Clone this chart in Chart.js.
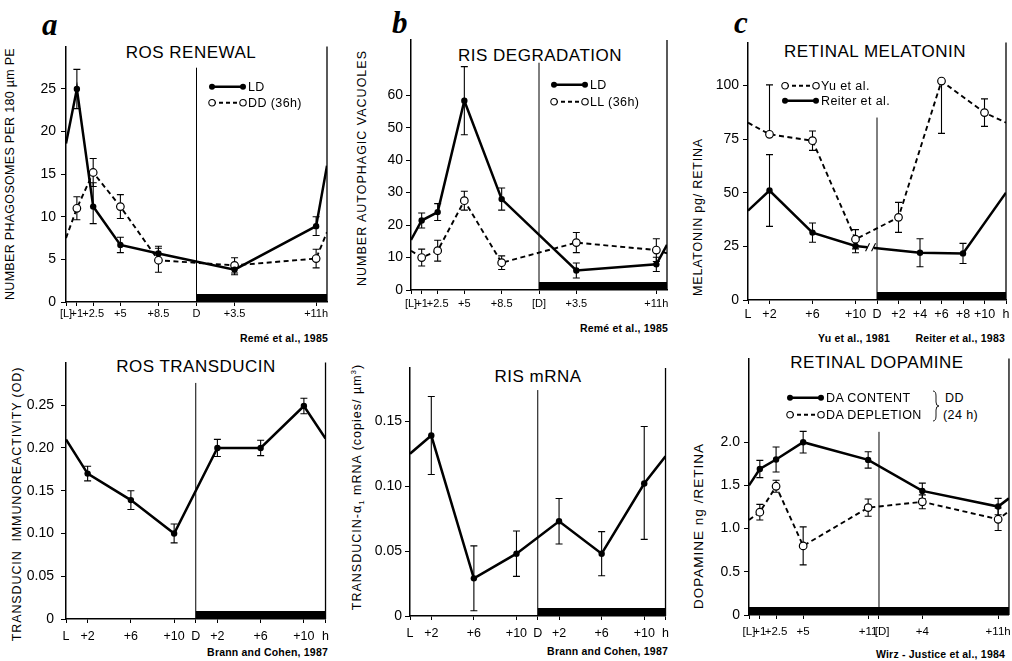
<!DOCTYPE html>
<html>
<head>
<meta charset="utf-8">
<title>Retinal rhythms</title>
<script src="https://cdn.jsdelivr.net/npm/chart.js@4.4.1/dist/chart.umd.min.js"></script>
<style>
  body { margin: 0; width: 1012px; height: 661px; position: relative; overflow: hidden; background: #fff; color: #000;
         font-family: "Liberation Sans", Arial, Helvetica, sans-serif; }
  canvas { position: absolute; }
  .txt { position: absolute; white-space: nowrap; line-height: 1; }
  .title { font-size: 17px; letter-spacing: 0.5px; transform: translate(-50%, -50%); }
  .ytitle { font-size: 12.5px; transform: translate(-50%, -50%) rotate(-90deg); }
  .letter { font-family: "Liberation Serif", "DejaVu Serif", serif; font-weight: bold; font-style: italic; font-size: 31px; }
  .note { font-size: 10.5px; font-weight: bold; letter-spacing: 0.2px; transform: translate(-100%, -50%); }
  .leg { font-size: 12.5px; letter-spacing: 0.4px; transform: translateY(-50%); display: flex; align-items: center; }
  .leg svg { margin-right: 1px; }
  sub, sup { font-size: 8px; line-height: 0; }
</style>
</head>
<body>

<div class="txt letter" style="left:42px;top:9px">a</div>
<div class="txt letter" style="left:392px;top:7px">b</div>
<div class="txt letter" style="left:734px;top:7px">c</div>

<div class="txt title" style="left:191px;top:52px">ROS RENEWAL</div>
<div class="txt title" style="left:540px;top:55px">RIS DEGRADATION</div>
<div class="txt title" style="left:875px;top:51px">RETINAL MELATONIN</div>
<div class="txt title" style="left:196px;top:366px">ROS TRANSDUCIN</div>
<div class="txt title" style="left:538px;top:376px">RIS mRNA</div>
<div class="txt title" style="left:877px;top:362px">RETINAL DOPAMINE</div>

<div class="txt ytitle" style="left:10px;top:174px;letter-spacing:0.3px">NUMBER PHAGOSOMES PER 180 µm PE</div>
<div class="txt ytitle" style="left:362px;top:168px;letter-spacing:1px">NUMBER AUTOPHAGIC VACUOLES</div>
<div class="txt ytitle" style="left:698px;top:217px;letter-spacing:0.8px">MELATONIN pg/ RETINA</div>
<div class="txt ytitle" style="left:17px;top:504px;letter-spacing:0.9px">TRANSDUCIN&nbsp; IMMUNOREACTIVITY (OD)</div>
<div class="txt ytitle" style="left:357px;top:487px;letter-spacing:1px">TRANSDUCIN-α<sub>1</sub> mRNA (copies/ µm<sup>3</sup>)</div>
<div class="txt ytitle" style="left:699px;top:526px;font-size:13.5px;letter-spacing:1px">DOPAMINE ng /RETINA</div>

<div class="txt note" style="left:328px;top:338px">Remé et al., 1985</div>
<div class="txt note" style="left:668px;top:328px">Remé et al., 1985</div>
<div class="txt note" style="left:890px;top:338px">Yu et al., 1981</div>
<div class="txt note" style="left:1005px;top:338px">Reiter et al., 1983</div>
<div class="txt note" style="left:328px;top:652px">Brann and Cohen, 1987</div>
<div class="txt note" style="left:668px;top:651px">Brann and Cohen, 1987</div>
<div class="txt note" style="left:1005px;top:654px">Wirz - Justice et al., 1984</div>

<svg style="position:absolute;left:932px;top:390px" width="8" height="32">
  <path d="M1 1 Q4 1 4 6 L4 12 Q4 16 7 16 Q4 16 4 20 L4 26 Q4 31 1 31" fill="none" stroke="#000" stroke-width="0.9"/>
</svg>
<div class="txt leg" style="left:945px;top:398px">DD</div>
<div class="txt leg" style="left:943px;top:415px">(24 h)</div>

<script>
'use strict'

const FONT = '"Liberation Sans", Arial, Helvetica, sans-serif';
Chart.defaults.color = '#000';
Chart.defaults.font.family = FONT;

// hours after light onset; lights off (D) at 12 h
// a - ROS renewal
const aHours = [0, 1, 2.5, 5, 8.5, 15.5, 23, 24];
const aLD = [18.6, 25, 11.2, 6.7, 5.7, 3.8, 8.9, 16];
const aLDErr = [null, 2.3, [2, 2.8], 0.9, 0.85, 0.6, 1.1, null];
const aDD = [7.5, 11, 15.2, 11.2, 4.9, 4.3, 5.1, 8.2];
const aDDErr = [null, 1.35, 1.65, 1.4, 1.4, 0.9, 1.1, null];
const aTicks = [0, 1, 2.5, 5, 8.5, 12, 15.5, 23];
const aTickLabels = ['[L]', '+1', '+2.5', '+5', '+8.5', 'D', '+3.5', '+11h'];
const aYTicks = [0, 5, 10, 15, 20, 25];
const aYLabels = ['0', '5', '10', '15', '20', '25'];

// b - RIS degradation
const bHours = [0, 1, 2.5, 5, 8.5, 15.5, 23, 24];
const bLD = [15.4, 21.4, 24, 58.3, 28, 6, 7.9, 13.9];
const bLDErr = [null, 2.3, 2.6, 10.5, 3.4, 2.3, 2.2, null];
const bLL = [12.1, 10, 12.1, 27.5, 8.4, 14.6, 12.3, 11.3];
const bLLErr = [null, 2.6, 3.2, 2.9, 2.1, 3.1, 3.5, null];
const bTicks = [0, 1, 2.5, 5, 8.5, 12, 15.5, 23];
const bTickLabels = ['[L]', '+1', '+2.5', '+5', '+8.5', '[D]', '+3.5', '+11h'];
const bYTicks = [0, 10, 20, 30, 40, 50, 60];
const bYLabels = ['0', '10', '20', '30', '40', '50', '60'];

// c - retinal melatonin
const cYuHours = [0, 2, 6, 10, 14, 18, 22, 24];
const cYu = [82.6, 77.2, 74.2, 28.3, 38.5, 102, 87.3, 82.6];
const cYuErr = [null, [0, 23], 4.5, 4.5, 7, [24.4, 0], 6.4, null];
const cReiterHours = [0, 2, 6, 10, 16, 20, 24];
const cReiter = [41.6, 51, 31.4, 25.2, 22, 21.7, 50];
const cReiterErr = [null, 16.7, 4.5, 3.2, 6.5, 4.7, null];
const cTicks = [0, 2, 6, 10, 12, 14, 16, 18, 20, 22, 24];
const cTickLabels = ['L', '+2', '+6', '+10', 'D', '+2', '+4', '+6', '+8', '+10', 'h'];
const cYTicks = [0, 25, 50, 75, 100];
const cYLabels = ['0', '25', '50', '75', '100'];

// d - ROS transducin
const dHours = [0, 2, 6, 10, 14, 18, 22, 24];
const dTransducin = [0.21, 0.17, 0.139, 0.1, 0.2, 0.2, 0.249, 0.211];
const dErr = [null, 0.0085, 0.011, 0.011, 0.01, 0.009, 0.009, null];
const dTicks = [0, 2, 6, 10, 12, 14, 18, 22, 24];
const dTickLabels = ['L', '+2', '+6', '+10', 'D', '+2', '+6', '+10', 'h'];
const dYTicks = [0, 0.05, 0.1, 0.15, 0.2, 0.25];
const dYLabels = ['0', '0.05', '0.10', '0.15', '0.20', '0.25'];

// e - RIS mRNA
const eHours = [0, 2, 6, 10, 14, 18, 22, 24];
const eMRNA = [0.125, 0.139, 0.029, 0.048, 0.073, 0.048, 0.102, 0.123];
const eErr = [null, 0.03, 0.025, 0.0175, 0.0175, 0.017, [0.043, 0.044], null];
const eTicks = [0, 2, 6, 10, 12, 14, 18, 22, 24];
const eTickLabels = ['L', '+2', '+6', '+10', 'D', '+2', '+6', '+10', 'h'];
const eYTicks = [0, 0.05, 0.1, 0.15];
const eYLabels = ['0', '0.05', '0.10', '0.15'];

// f - retinal dopamine
const fHours = [0, 1, 2.5, 5, 11, 16, 23, 24];
const fContent = [1.5, 1.69, 1.8, 2.0, 1.795, 1.436, 1.255, 1.35];
const fContentErr = [null, 0.1, 0.145, 0.125, 0.095, 0.09, 0.095, null];
const fDepletion = [1.1, 1.19, 1.49, 0.8, 1.243, 1.31, 1.108, 1.2];
const fDepletionErr = [null, 0.09, 0.07, 0.22, 0.1, 0.08, 0.13, null];
const fTicks = [0, 1, 2.5, 5, 11, 12, 16, 23];
const fTickLabels = ['[L]', '+1', '+2.5', '+5', '+11', '  [D]', '+4', '+11h'];
const fYTicks = [0, 0.5, 1, 1.5, 2];
const fYLabels = ['0', '0.5', '1.0', '1.5', '2.0'];

const Y_W = 40, X_H = 26, PAD_T = 12, PAD_R = 8;

const panels = [
  { area: {l: 66, r: 327, t: 45, b: 302}, yMax: 30, yTicks: aYTicks, yLabels: aYLabels, xTicks: aTicks, xLabels: aTickLabels,
    xFont: 11, yFont: 14, xPad: 1, yPad: 5, lightsOff: 27.5, dark: [12, 24],
    series: [{x: aHours, y: aLD, err: aLDErr}, {x: aHours, y: aDD, err: aDDErr, open: true}] },
  { area: {l: 411, r: 667, t: 40, b: 290}, yMax: 77, yTicks: bYTicks, yLabels: bYLabels, xTicks: bTicks, xLabels: bTickLabels,
    xFont: 11, yFont: 14, xPad: 3, yPad: 3, lightsOff: 70, dark: [12, 24],
    series: [{x: bHours, y: bLD, err: bLDErr}, {x: bHours, y: bLL, err: bLLErr, open: true}] },
  { area: {l: 748, r: 1006, t: 42, b: 300}, yMax: 120, yTicks: cYTicks, yLabels: cYLabels, xTicks: cTicks, xLabels: cTickLabels,
    xFont: 12.5, yFont: 14, xPad: 3, yPad: 4, lightsOff: 85, dark: [12, 24], breakAt: [11.4, 24.6],
    series: [{x: cReiterHours, y: cReiter, err: cReiterErr}, {x: cYuHours, y: cYu, err: cYuErr, open: true}] },
  { area: {l: 66, r: 327, t: 359, b: 619}, yMax: 0.3, yTicks: dYTicks, yLabels: dYLabels, xTicks: dTicks, xLabels: dTickLabels,
    xFont: 12.5, yFont: 14, xPad: 6, yPad: 7, lightsOff: 0.276, dark: [12, 24],
    series: [{x: dHours, y: dTransducin, err: dErr}] },
  { area: {l: 410, r: 667, t: 368, b: 616}, yMax: 0.191, yTicks: eYTicks, yLabels: eYLabels, xTicks: eTicks, xLabels: eTickLabels,
    xFont: 12.5, yFont: 14, xPad: 6, yPad: 3, lightsOff: 0.174, dark: [12, 24],
    series: [{x: eHours, y: eMRNA, err: eErr}] },
  { area: {l: 749, r: 1009, t: 358, b: 615}, yMax: 2.97, yTicks: fYTicks, yLabels: fYLabels, xTicks: fTicks, xLabels: fTickLabels,
    xFont: 11.5, yFont: 14, xPad: 6, yPad: 4, lightsOff: 2.12, dark: [0, 24],
    series: [{x: fHours, y: fContent, err: fContentErr}, {x: fHours, y: fDepletion, err: fDepletionErr, open: true}] }
];

// right frame, dark bar, lights-off line, error bars, axis break
const decor = {
  id: 'decor',
  beforeDatasetsDraw(chart, args, opts) {
    const ctx = chart.ctx, ca = chart.chartArea;
    const x = chart.scales.x, y = chart.scales.y;
    ctx.save();
    ctx.strokeStyle = '#000';
    ctx.fillStyle = '#000';
    ctx.lineWidth = 1.3;
    ctx.beginPath();
    ctx.moveTo(ca.right, ca.top);
    ctx.lineTo(ca.right, ca.bottom);
    ctx.stroke();

    const x0 = x.getPixelForValue(opts.dark[0]), x1 = x.getPixelForValue(opts.dark[1]);
    ctx.fillRect(x0, ca.bottom - 8, x1 - x0, 8);

    const xd = x.getPixelForValue(12);
    ctx.lineWidth = 1;
    ctx.beginPath();
    ctx.moveTo(xd, y.getPixelForValue(opts.lightsOff));
    ctx.lineTo(xd, ca.bottom);
    ctx.stroke();

    ctx.lineWidth = 1.1;
    chart.data.datasets.forEach(ds => {
      ds.data.forEach((pt, i) => {
        const e = ds.errors[i];
        if (e == null) return;
        const dn = Array.isArray(e) ? e[0] : e;
        const up = Array.isArray(e) ? e[1] : e;
        const px = x.getPixelForValue(pt.x);
        const yHi = y.getPixelForValue(pt.y + up), yLo = y.getPixelForValue(pt.y - dn);
        ctx.beginPath();
        ctx.moveTo(px, yHi);
        ctx.lineTo(px, yLo);
        if (up) { ctx.moveTo(px - 3.5, yHi); ctx.lineTo(px + 3.5, yHi); }
        if (dn) { ctx.moveTo(px - 3.5, yLo); ctx.lineTo(px + 3.5, yLo); }
        ctx.stroke();
      });
    });
    ctx.restore();
  },
  afterDatasetsDraw(chart, args, opts) {
    if (!opts.breakAt) return;
    const ctx = chart.ctx;
    const px = chart.scales.x.getPixelForValue(opts.breakAt[0]);
    const py = chart.scales.y.getPixelForValue(opts.breakAt[1]);
    ctx.save();
    ctx.fillStyle = '#fff';
    ctx.fillRect(px - 3, py - 3, 6, 6);
    ctx.strokeStyle = '#000';
    ctx.lineWidth = 1.1;
    ctx.beginPath();
    ctx.moveTo(px - 5, py + 4); ctx.lineTo(px - 1, py - 4);
    ctx.moveTo(px + 1, py + 4); ctx.lineTo(px + 5, py - 4);
    ctx.stroke();
    ctx.restore();
  }
};

function toPoints(xs, ys) {
  return xs.map((h, i) => ({x: h, y: ys[i]}));
}

// no marker on the points that only continue the line to the frame
function edgeRadius(xs, r) {
  return xs.map((h, i) => (i === 0 || i === xs.length - 1) ? 0 : r);
}

function makeSeries(s) {
  const ds = { data: toPoints(s.x, s.y), errors: s.err, borderColor: '#000', pointBorderColor: '#000',
               pointHoverRadius: 0, tension: 0, fill: false };
  if (s.open) {
    return Object.assign(ds, { borderWidth: 1.9, borderDash: [5, 3.5], pointRadius: edgeRadius(s.x, 3.8),
                               pointBackgroundColor: '#fff', pointBorderWidth: 1.2 });
  }
  return Object.assign(ds, { borderWidth: 2.5, pointRadius: edgeRadius(s.x, 3.2),
                             pointBackgroundColor: '#000', pointBorderWidth: 0 });
}

function makeChart(p) {
  const cv = document.createElement('canvas');
  const w = p.area.r - p.area.l + Y_W + PAD_R;
  const h = p.area.b - p.area.t + X_H + PAD_T;
  cv.width = w;
  cv.height = h;
  cv.style.left = (p.area.l - Y_W) + 'px';
  cv.style.top = (p.area.t - PAD_T) + 'px';
  cv.style.width = w + 'px';
  cv.style.height = h + 'px';
  document.body.appendChild(cv);

  return new Chart(cv.getContext('2d'), {
    type: 'line',
    data: { datasets: p.series.map(makeSeries) },
    options: {
      responsive: false,
      animation: false,
      devicePixelRatio: 1,
      events: [],
      layout: { padding: { left: 0, top: PAD_T, right: PAD_R, bottom: 0 } },
      plugins: {
        legend: { display: false },
        tooltip: { enabled: false },
        decor: { lightsOff: p.lightsOff, dark: p.dark, breakAt: p.breakAt }
      },
      scales: {
        x: {
          type: 'linear', min: 0, max: 24,
          afterBuildTicks: s => { s.ticks = p.xTicks.map(v => ({value: v})); },
          afterFit: s => { s.height = X_H; },
          ticks: { callback: (v, i) => p.xLabels[i], autoSkip: false, maxRotation: 0, padding: p.xPad,
                   font: { size: p.xFont } },
          grid: { display: true, drawOnChartArea: false, drawTicks: true, tickLength: 4, color: '#000', lineWidth: 1 },
          border: { display: true, color: '#000', width: 1.5 }
        },
        y: {
          type: 'linear', min: 0, max: p.yMax,
          afterBuildTicks: s => { s.ticks = p.yTicks.map(v => ({value: v})); },
          afterFit: s => { s.width = Y_W; },
          ticks: { callback: (v, i) => p.yLabels[i], padding: p.yPad, font: { size: p.yFont } },
          grid: { display: true, drawOnChartArea: false, drawTicks: true, tickLength: 5, color: '#000', lineWidth: 1 },
          border: { display: true, color: '#000', width: 1.5 }
        }
      }
    },
    plugins: [decor]
  });
}

panels.forEach(makeChart);

function legendSymbol(open) {
  if (open) {
    return '<svg width="39" height="10"><line x1="4" y1="5" x2="35" y2="5" stroke="#000" stroke-width="1.8" stroke-dasharray="4 3"/>' +
           '<circle cx="4" cy="5" r="3.2" fill="#fff" stroke="#000" stroke-width="1.1"/>' +
           '<circle cx="35" cy="5" r="3.2" fill="#fff" stroke="#000" stroke-width="1.1"/></svg>';
  }
  return '<svg width="39" height="10"><line x1="4" y1="5" x2="35" y2="5" stroke="#000" stroke-width="2.4"/>' +
         '<circle cx="4" cy="5" r="3" fill="#000"/><circle cx="35" cy="5" r="3" fill="#000"/></svg>';
}

function addLegend(left, top, open, text) {
  const d = document.createElement('div');
  d.className = 'txt leg';
  d.style.left = left + 'px';
  d.style.top = top + 'px';
  d.innerHTML = legendSymbol(open) + '<span>' + text + '</span>';
  document.body.appendChild(d);
}

addLegend(208, 87, false, 'LD');
addLegend(208, 103, true, 'DD (36h)');
addLegend(550, 85, false, 'LD');
addLegend(550, 102, true, 'LL (36h)');
addLegend(781, 86, true, 'Yu et al.');
addLegend(781, 101, false, 'Reiter et al.');
addLegend(786, 398, false, 'DA CONTENT');
addLegend(786, 415, true, 'DA DEPLETION');
</script>
</body>
</html>
